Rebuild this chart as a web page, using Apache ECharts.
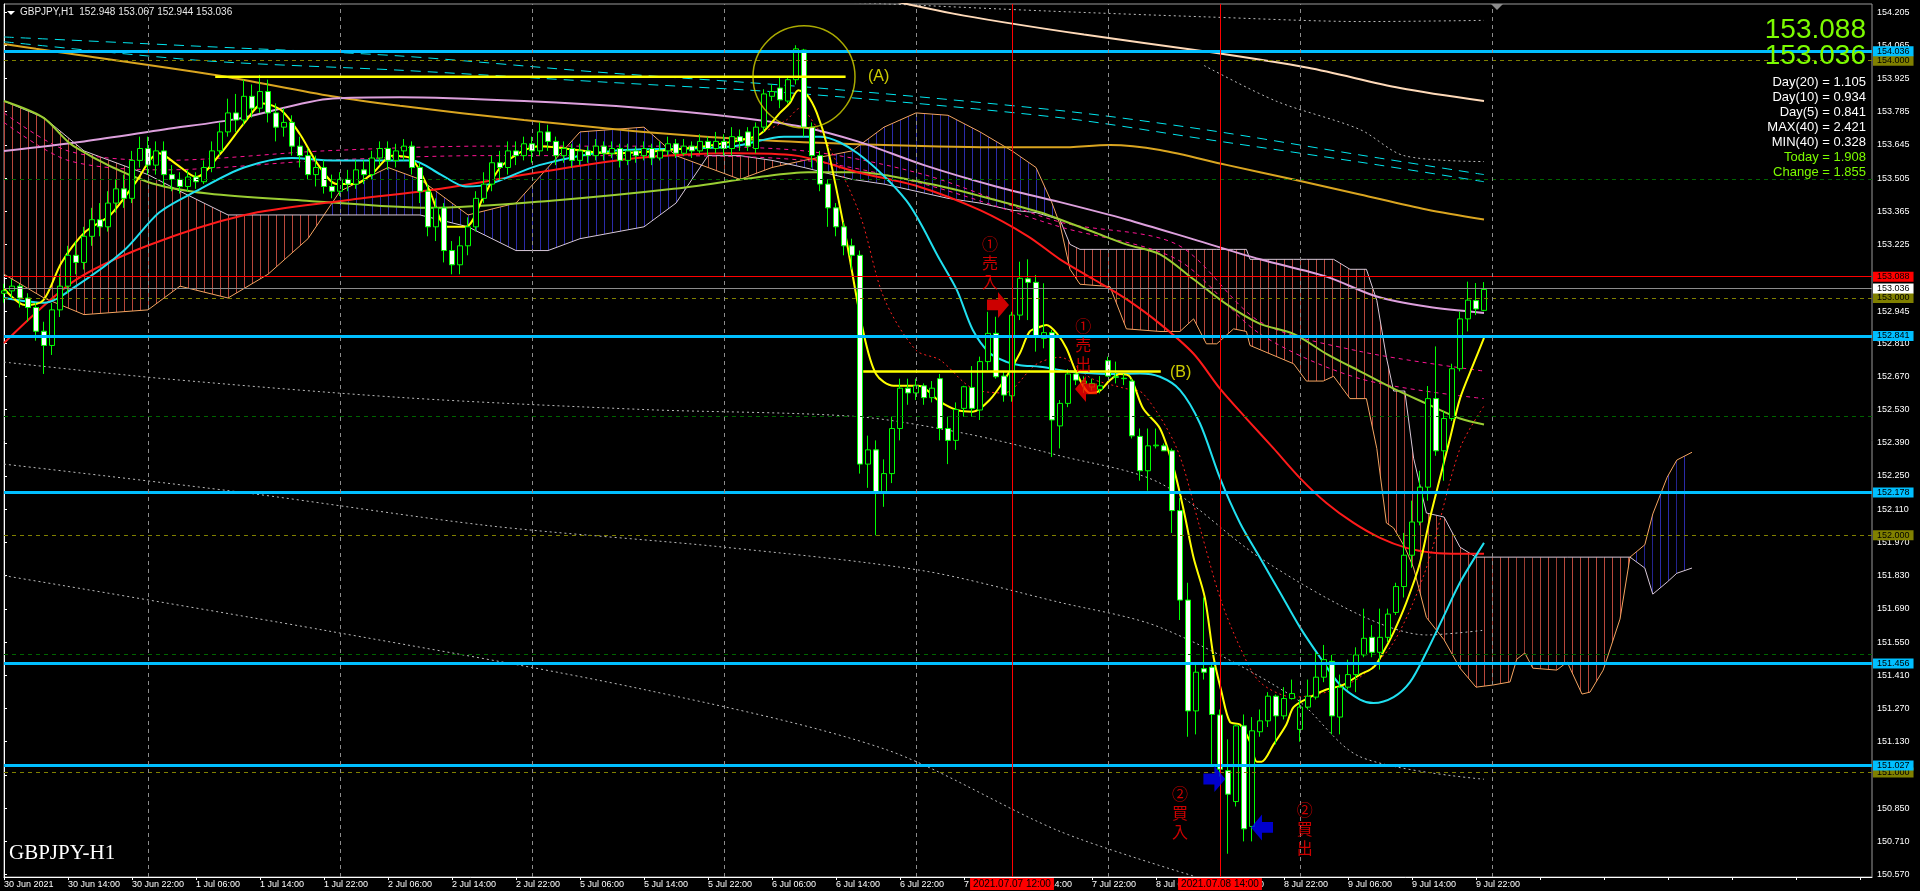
<!DOCTYPE html>
<html><head><meta charset="utf-8">
<style>html,body{margin:0;padding:0;background:#000;overflow:hidden}#c{width:1920px;height:891px}</style>
<script src="https://cdn.jsdelivr.net/npm/echarts@6/dist/echarts.min.js"></script>
</head><body><div id="c"></div>
<script>
// ---------- DATA ----------
// candles [open, high, low, close], one per H1 bar starting 30 Jun 2021 06:00
const ohlc = [
[153.02,153.06,152.98,153.03],[153.03,153.08,153.00,153.05],[153.05,153.06,152.96,153.00],[153.00,153.02,152.90,152.96],
[152.96,152.98,152.82,152.86],[152.86,152.90,152.68,152.80],[152.80,152.98,152.76,152.95],[152.95,153.10,152.92,153.05],
[153.05,153.22,153.02,153.18],[153.18,153.24,153.10,153.15],[153.15,153.30,153.12,153.26],[153.26,153.38,153.22,153.33],
[153.33,153.40,153.26,153.30],[153.30,153.45,153.28,153.40],[153.40,153.50,153.36,153.46],[153.46,153.52,153.38,153.42],
[153.42,153.62,153.40,153.58],[153.58,153.68,153.55,153.63],[153.63,153.68,153.52,153.56],[153.56,153.66,153.52,153.62],
[153.62,153.66,153.47,153.52],[153.52,153.56,153.45,153.50],[153.50,153.53,153.44,153.47],[153.47,153.54,153.45,153.51],
[153.51,153.53,153.46,153.49],[153.49,153.58,153.48,153.55],[153.55,153.66,153.53,153.62],[153.62,153.74,153.60,153.70],
[153.70,153.84,153.68,153.78],[153.78,153.86,153.70,153.75],[153.75,153.92,153.73,153.85],[153.85,153.90,153.76,153.80],
[153.80,153.94,153.78,153.87],[153.87,153.92,153.74,153.78],[153.78,153.82,153.66,153.72],[153.72,153.80,153.68,153.74],
[153.74,153.77,153.60,153.64],[153.64,153.68,153.55,153.60],[153.60,153.63,153.50,153.52],[153.52,153.60,153.47,153.55],
[153.55,153.58,153.44,153.47],[153.47,153.52,153.42,153.45],[153.45,153.53,153.43,153.50],[153.50,153.54,153.45,153.48],
[153.48,153.58,153.46,153.54],[153.54,153.58,153.48,153.52],[153.52,153.62,153.50,153.59],[153.59,153.66,153.56,153.63],
[153.63,153.66,153.54,153.58],[153.58,153.65,153.55,153.62],[153.62,153.67,153.58,153.64],[153.64,153.66,153.52,153.55],
[153.55,153.57,153.40,153.45],[153.45,153.48,153.26,153.30],[153.30,153.42,153.24,153.38],[153.38,153.40,153.15,153.20],
[153.20,153.24,153.10,153.14],[153.14,153.26,153.10,153.22],[153.22,153.34,153.18,153.30],[153.30,153.45,153.28,153.42],
[153.42,153.53,153.40,153.48],[153.48,153.60,153.45,153.57],[153.57,153.62,153.50,153.55],[153.55,153.66,153.52,153.62],
[153.62,153.66,153.56,153.60],[153.60,153.68,153.58,153.65],[153.65,153.68,153.57,153.62],[153.62,153.74,153.60,153.70],
[153.70,153.73,153.62,153.66],[153.66,153.68,153.56,153.60],[153.60,153.66,153.57,153.63],[153.63,153.65,153.55,153.58],
[153.58,153.65,153.56,153.62],[153.62,153.64,153.57,153.60],[153.60,153.67,153.58,153.64],[153.64,153.66,153.58,153.61],
[153.61,153.66,153.59,153.63],[153.63,153.65,153.55,153.58],[153.58,153.65,153.56,153.62],[153.62,153.64,153.57,153.60],
[153.60,153.66,153.58,153.63],[153.63,153.65,153.56,153.59],[153.59,153.66,153.58,153.62],[153.62,153.68,153.60,153.65],
[153.65,153.67,153.59,153.61],[153.61,153.67,153.60,153.64],[153.64,153.66,153.59,153.62],[153.62,153.69,153.61,153.66],
[153.66,153.68,153.60,153.63],[153.63,153.70,153.61,153.66],[153.66,153.69,153.60,153.63],[153.63,153.72,153.60,153.68],
[153.68,153.71,153.62,153.66],[153.70,153.72,153.62,153.64],[153.63,153.74,153.61,153.72],[153.72,153.88,153.70,153.86],
[153.85,153.90,153.83,153.87],[153.885,153.93,153.80,153.835],[153.83,153.93,153.82,153.92],[153.92,154.065,153.90,154.05],
[154.045,154.05,153.68,153.72],[153.72,153.74,153.55,153.60],[153.60,153.62,153.45,153.48],[153.48,153.50,153.30,153.38],
[153.38,153.40,153.26,153.30],[153.30,153.32,153.18,153.22],[153.22,153.25,153.12,153.18],[153.18,153.20,152.26,152.30],
[152.30,152.42,152.20,152.36],[152.36,152.40,152.00,152.18],[152.18,152.32,152.12,152.26],[152.26,152.50,152.22,152.45],
[152.45,152.66,152.40,152.62],[152.62,152.66,152.55,152.60],[152.60,152.66,152.57,152.63],[152.63,152.64,152.55,152.58],
[152.58,152.65,152.56,152.62],[152.66,152.68,152.40,152.45],[152.45,152.50,152.30,152.40],[152.40,152.56,152.36,152.53],
[152.535,152.630,152.500,152.626],[152.623,152.713,152.500,152.535],[152.528,152.753,152.486,152.732],[152.732,152.942,152.696,152.851],
[152.851,152.921,152.660,152.668],[152.671,152.689,152.563,152.591],[152.588,152.942,152.563,152.928],[152.928,153.153,152.907,153.083],
[153.081,153.163,152.907,153.066],[153.066,153.097,152.774,152.834],[152.830,153.062,152.788,152.854],[152.854,152.865,152.330,152.486],
[152.461,152.570,152.366,152.556],[152.556,152.700,152.540,152.680],[152.680,152.689,152.633,152.654],[152.640,152.670,152.600,152.650],
[152.625,152.660,152.610,152.640],[152.615,152.671,152.598,152.630],[152.736,152.753,152.668,152.671],[152.668,152.732,152.640,152.666],
[152.662,152.680,152.633,152.660],[152.650,152.660,152.408,152.419],[152.417,152.450,152.230,152.272],[152.272,152.450,152.188,152.377],
[152.377,152.450,152.366,152.380],[152.377,152.387,152.356,152.356],[152.356,152.366,152.010,152.104],[152.104,152.157,151.643,151.727],
[151.727,151.800,151.151,151.260],[151.260,151.465,151.161,151.423],[151.438,151.738,151.392,151.423],[151.444,151.465,151.025,151.245],
[151.243,151.266,150.983,151.014],[151.008,151.140,150.658,150.909],[150.878,151.203,150.857,151.197],[151.197,151.245,150.710,150.763],
[150.773,151.234,150.710,151.176],[151.172,151.266,151.151,151.218],[151.218,151.339,151.192,151.322],[151.322,151.329,151.119,151.239],
[151.239,151.360,151.224,151.312],[151.312,151.392,151.308,151.333],[151.182,151.308,151.130,151.276],[151.276,151.392,151.266,151.322],
[151.318,151.507,151.308,151.402],[151.402,151.538,151.381,151.476],[151.469,151.496,151.161,151.239],[151.234,151.413,151.161,151.360],
[151.360,151.476,151.350,151.413],[151.413,151.528,151.339,151.496],[151.496,151.691,151.486,151.566],[151.570,151.622,151.486,151.507],
[151.507,151.691,151.434,151.570],[151.570,151.691,151.549,151.668],[151.675,151.800,151.664,151.784],[151.784,152.010,151.738,151.916],
[151.916,152.146,151.863,152.056],[152.056,152.272,152.042,152.203],[152.203,152.629,152.146,152.576],[152.576,152.796,152.335,152.356],
[152.356,152.524,152.230,152.492],[152.492,152.723,152.482,152.702],[152.702,152.943,152.691,152.912],[152.912,153.069,152.859,152.991],
[152.989,153.063,152.928,152.954],[152.948,153.067,152.944,153.036]
];
// x tick labels [bar index, text]
const xTickLabels = [[0,'30 Jun 2021'],[8,'30 Jun 14:00'],[16,'30 Jun 22:00'],[24,'1 Jul 06:00'],[32,'1 Jul 14:00'],[40,'1 Jul 22:00'],
[48,'2 Jul 06:00'],[56,'2 Jul 14:00'],[64,'2 Jul 22:00'],[72,'5 Jul 06:00'],[80,'5 Jul 14:00'],[88,'5 Jul 22:00'],[96,'6 Jul 06:00'],
[104,'6 Jul 14:00'],[112,'6 Jul 22:00'],[120,'7 Jul 06:00'],[128,'7 Jul 14:00'],[136,'7 Jul 22:00'],[144,'8 Jul 06:00'],[152,'8 Jul 14:00'],
[160,'8 Jul 22:00'],[168,'9 Jul 06:00'],[176,'9 Jul 14:00'],[184,'9 Jul 22:00']];
const yTicks = [150.570,150.710,150.850,150.990,151.130,151.270,151.410,151.550,151.690,151.830,151.970,152.110,152.250,152.390,152.530,
152.670,152.810,152.945,153.085,153.225,153.365,153.505,153.645,153.785,153.925,154.065,154.205];
const daySeparators = [18,42,66,90,114,138,162,186];
const cyanLevels = [154.036,152.841,152.178,151.456,151.027];
const olivLevels = [154.000,153.000,152.000,151.000];
const greenLevels = [153.500,152.500,151.500];
const highLine = 153.088, bidLine = 153.036;
const redTimes = [[126,'2021.07.07 12:00'],[152,'2021.07.08 14:00']];
// indicator lines [bar index, price]
const maYellow = [[0,153.04],[2.6,152.97],[4.9,152.99],[7.2,153.15],[10.2,153.28],[13.3,153.35],[16.3,153.48],[19.4,153.61],[21.7,153.56],[24,153.51],[27.1,153.61],[30.1,153.74],[32.4,153.82],[34.7,153.79],[37,153.69],[39.3,153.56],[41.6,153.48],[43.9,153.48],[46.2,153.53],[48.5,153.60],[50.8,153.59],[53.1,153.46],[55.4,153.30],[57.7,153.30],[60,153.43],[62.3,153.56],[66.9,153.64],[76,153.61],[85.2,153.63],[91.3,153.66],[94.5,153.69],[97,153.78],[98.2,153.82],[99.3,153.876],[100.4,153.855],[101.6,153.78],[102.9,153.64],[105.1,153.28],[107.4,152.86],[109,152.68],[111.2,152.63],[114.3,152.63],[117,152.563],[119.1,152.528],[121.1,152.521],[123.2,152.57],[125.3,152.668],[127,152.768],[128.2,152.858],[129.5,152.879],[130.3,152.886],[131.6,152.851],[132.8,152.788],[134.1,152.682],[135.75,152.6],[137,152.61],[138.25,152.654],[139.5,152.68],[140.75,152.668],[142.4,152.534],[144.5,152.45],[146.2,152.283],[147.4,152.115],[148.7,151.905],[150.1,151.738],[151.2,151.486],[152.2,151.339],[153.25,151.213],[154.5,151.203],[155.75,151.13],[156.6,151.046],[157.2,151.046],[158.7,151.119],[160.3,151.203],[161.2,151.276],[163.25,151.318],[165.3,151.35],[167.4,151.37],[169.5,151.413],[171.2,151.444],[172.4,151.507],[173.7,151.591],[175.3,151.717],[177,151.884],[178.25,152.073],[179.5,152.241],[180.75,152.408],[182,152.576],[183.7,152.723],[185,152.832]];
const maCyan = [[0,153.00],[5,152.98],[9,153.05],[15,153.20],[19.4,153.36],[24,153.45],[30,153.55],[36,153.59],[41,153.58],[46,153.58],[51,153.58],[54.6,153.52],[57.7,153.47],[60.7,153.48],[66.9,153.56],[76,153.62],[85.2,153.63],[91.3,153.64],[97.5,153.68],[102,153.68],[106.7,153.61],[112.8,153.41],[117,153.16],[119.1,153.034],[121.1,152.865],[123.2,152.768],[125.3,152.731],[127,152.717],[129.5,152.71],[133.6,152.689],[137.8,152.68],[142,152.682],[144.5,152.668],[147,152.612],[149.5,152.471],[152,152.241],[154.5,152.052],[157,151.905],[159.5,151.759],[162,151.612],[164.5,151.486],[167,151.37],[169.5,151.308],[171.2,151.293],[173.7,151.318],[175.75,151.381],[177.8,151.507],[179.9,151.654],[182,151.801],[185,151.968]];
const maRed = [[0,152.81],[8.7,153.07],[17.9,153.22],[30.1,153.35],[42.4,153.41],[54.6,153.46],[66.9,153.53],[79.1,153.59],[91.3,153.61],[99,153.60],[106.7,153.53],[114.3,153.47],[122,153.37],[128,153.26],[132,153.163],[136.2,153.079],[140.3,152.995],[144.5,152.891],[148.7,152.765],[152,152.618],[155.3,152.492],[158.7,152.366],[162,152.241],[165.3,152.136],[168.7,152.052],[172,151.989],[175.3,151.947],[178.7,151.926],[182,151.922],[185,151.922]];
const maGreen = [[0,153.83],[4.9,153.76],[8.7,153.64],[17.9,153.49],[25.5,153.44],[37.8,153.41],[53.1,153.38],[68.4,153.41],[83.7,153.46],[94.4,153.51],[100.5,153.53],[106.7,153.53],[115.8,153.48],[122,153.43],[129.6,153.36],[132,153.331],[136.2,153.278],[140.3,153.226],[144.5,153.184],[148.7,153.079],[152.8,152.974],[157,152.891],[161.2,152.849],[165.3,152.765],[169.5,152.691],[173.7,152.618],[177.8,152.555],[182,152.492],[185,152.467]];
const maPlum = [[0,153.62],[10,153.66],[20,153.71],[29.5,153.757],[41.1,153.841],[49.5,153.846],[65,153.83],[80,153.80],[92,153.76],[100,153.72],[106.7,153.66],[115,153.56],[124,153.47],[132,153.404],[140.3,153.331],[148.7,153.247],[157,153.163],[165.3,153.09],[171.6,153.006],[177.8,152.964],[185,152.937]];
const maGold = [[0,154.07],[4,154.05],[26.4,153.94],[41,153.85],[49.5,153.81],[65,153.75],[80,153.70],[95,153.665],[110,153.645],[125,153.635],[132,153.635],[138.25,153.645],[144.5,153.624],[152.8,153.561],[161.2,153.499],[169.5,153.436],[177.8,153.373],[185,153.331]];
const maBisque = [[110,154.26],[120,154.19],[135,154.11],[150,154.04],[163,153.97],[174.5,153.885],[185,153.83]];
const cyanDashA = [[0,154.10],[25,154.06],[49.5,154.02],[75,153.95],[100,153.89],[132,153.79],[150,153.71],[170,153.60],[185,153.52]];
const cyanDashB = [[0,154.08],[25,154.00],[49.5,153.96],[75,153.91],[100,153.86],[132,153.76],[150,153.67],[170,153.57],[185,153.49]];
const dotUp1 = [[95,154.26],[110,154.24],[130,154.21],[150,154.185],[170,154.165],[185,154.17]];
const dotUp2 = [[150,153.98],[159,153.83],[169.5,153.71],[175,153.60],[185,153.575]];
const dotLo1 = [[0,152.73],[20,152.66],[50,152.58],[80,152.53],[106.7,152.50],[120,152.43],[132,152.335],[144.5,152.22],[157,151.905],[169.5,151.664],[177.8,151.58],[185,151.60]];
const dotLo2 = [[0,152.30],[30,152.18],[60.7,152.04],[90,151.95],[115,151.85],[132,151.717],[144.5,151.612],[161.2,151.318],[169.5,151.067],[185,150.972]];
const dotLo3 = [[0,151.83],[40,151.60],[80,151.35],[110,151.10],[132,150.752],[148.7,150.564]];
const redDotted = [[95,153.70],[97.8,153.75],[99.5,153.80],[101.6,153.72],[102.8,153.66],[107,153.35],[110,153.00],[114,152.78],[117,152.739],[121,152.62],[125,152.60],[129,152.72],[132,152.75],[136,152.66],[140,152.62],[142.4,152.597],[146.6,152.366],[149.5,152.031],[152,151.738],[154.5,151.528],[157,151.381],[161.2,151.318],[165.3,151.339],[169.5,151.402],[173.7,151.549],[177.8,151.863],[182,152.366],[185,152.545]];
const pinkDashA = [[0,153.78],[8,153.62],[20,153.58],[40,153.62],[60,153.64],[80,153.64],[100,153.62],[115,153.52],[132,153.32],[146.6,153.226],[157,152.90],[169.5,152.775],[185,152.692]];
const pinkDashB = [[0,153.74],[8,153.58],[20,153.54],[40,153.58],[60,153.60],[80,153.60],[100,153.58],[115,153.48],[132,153.30],[146.6,153.163],[157,152.849],[169.5,152.66],[185,152.576]];
// Ichimoku cloud key points
const cloudIdx = [0,5,10,18,22,28,33,38,42,48,52,58,64,68,72,80,84,88,92,96,100,106,110,114,118,122,126,129,131,132,133.25,134.5,138.25,140.3,144.5,147,148.7,150.3,151.6,153.7,155.3,155.75,161.2,162.8,164.9,166.2,168.25,170.3,171.6,172.8,173.7,175.1,176.2,177.8,180,182,184,186.1,188.25,189.1,190.1,191.1,194.1,195.4,197.25,198.25,199.9,202,203.25,205.1,206.1,207.9,209.1,211];
const spanA = [153.10,153.00,152.93,152.95,153.05,153.00,153.10,153.25,153.45,153.55,153.50,153.35,153.40,153.55,153.70,153.72,153.60,153.55,153.50,153.55,153.58,153.62,153.72,153.78,153.77,153.70,153.62,153.55,153.40,153.31,153.121,153.058,153.048,152.87,152.859,152.859,152.912,152.807,152.807,152.87,152.859,152.80,152.723,152.65,152.65,152.67,152.576,152.576,152.366,152.052,152.031,151.95,151.863,151.654,151.56,151.44,151.36,151.369,151.382,151.478,151.504,151.44,151.432,151.466,151.331,151.339,151.432,151.647,151.908,151.96,152.09,152.245,152.317,152.35];
const spanB = [153.83,153.76,153.62,153.52,153.45,153.35,153.35,153.35,153.35,153.35,153.35,153.30,153.20,153.20,153.25,153.30,153.40,153.60,153.60,153.58,153.55,153.50,153.48,153.45,153.42,153.40,153.37,153.36,153.34,153.33,153.226,153.205,153.205,153.205,153.205,153.205,153.205,153.205,153.205,153.205,153.205,153.163,153.163,153.163,153.163,153.163,153.121,153.121,152.99,152.75,152.608,152.608,152.325,152.094,152.077,151.95,151.908,151.908,151.908,151.908,151.908,151.908,151.908,151.908,151.908,151.908,151.908,151.908,151.908,151.862,151.752,151.803,151.84,151.862];
// annotations
const lineA = [[26.4,153.932],[105.2,153.932]];
const lineB = [[107.4,152.690],[144.6,152.690]];
const circleA = [100,153.932];
const notes = [{i:123.25,p:153.148,t:'①\n売\n入'},{i:134.9,p:152.802,t:'①\n売\n出'},{i:147,p:150.832,t:'②\n買\n入'},{i:162.6,p:150.762,t:'②\n買\n出'}];
const arrows = [{i:124.25,p:152.971,dir:'r',c:'#ff0000'},{i:135.25,p:152.617,dir:'l',c:'#ff0000'},{i:151.3,p:150.973,dir:'r',c:'#0000ff'},{i:157.25,p:150.769,dir:'l',c:'#0000ff'}];
const letterLabels = [{i:108,p:153.932,t:'(A)'},{i:145.75,p:152.686,t:'(B)'}];
const infoLines = [['Day(20) = 1.105','#ffffff'],['Day(10) = 0.934','#ffffff'],['Day(5) = 0.841','#ffffff'],['MAX(40) = 2.421','#ffffff'],['MIN(40) = 0.328','#ffffff'],['Today = 1.908','#7cfc00'],['Change = 1.855','#7cfc00']];
const bigPrices = ['153.088','153.036'];
const titleText = 'GBPJPY,H1  152.948 153.067 152.944 153.036';

// ---------- CHART ----------
const chart = echarts.init(document.getElementById('c'));
const xMap = {}; xTickLabels.forEach(([i,t])=>xMap[i]=t);
function hatch(color){const c=document.createElement('canvas');c.width=8;c.height=8;const g=c.getContext('2d');g.fillStyle=color;g.fillRect(4,0,1,8);return {image:c,repeat:'repeat'};}
const redHatch = hatch('#b8483c'), blueHatch = hatch('#2b2ba8');
const cloudData = cloudIdx.map((i,k)=>[i,spanA[k],spanB[k]]);
function lineSeries(data,color,width,type,z,smooth){return {type:'line',data:data,symbol:'none',smooth:smooth===undefined?0.3:smooth,z:z||3,silent:true,animation:false,lineStyle:{color:color,width:width,type:type||'solid'}};}
const yBox = (v,bg,fg,lc,lw,lt)=>({yAxis:v,lineStyle:{color:lc,width:lw,type:lt||'solid'},label:bg?{show:true,position:'end',distance:1,formatter:v.toFixed(3),backgroundColor:bg,color:fg,fontSize:9,fontFamily:'Liberation Sans',padding:[1,4,0,4]}:{show:false}});
const hLines = [];
greenLevels.forEach(v=>hLines.push(yBox(v,null,null,'#006400',1,[4,4])));
olivLevels.forEach(v=>hLines.push(yBox(v,'#808000','#000','#808000',1,[4,4])));
hLines.push(yBox(bidLine,'#ffffff','#000','#8c8c8c',1));
hLines.push(yBox(highLine,'#ff0000','#000','#ff0000',1));
cyanLevels.forEach(v=>hLines.push(yBox(v,'#00bfff','#000','#00bfff',3)));
const vLines = daySeparators.map(i=>({xAxis:i,lineStyle:{color:'#8c8c8c',width:1,type:[4,4]},label:{show:false}}));
redTimes.forEach(([i,t])=>vLines.push({xAxis:i,lineStyle:{color:'#ff0000',width:1,type:'solid'},label:{show:true,position:'start',distance:1,formatter:t,backgroundColor:'#ff0000',color:'#000',fontSize:10,fontFamily:'Liberation Sans',padding:[1,3,1,3]}}));
const arrowPath = {r:'path://M0,7 L11,7 L11,0 L22,12 L11,24 L11,17 L0,17 Z', l:'path://M22,7 L11,7 L11,0 L0,12 L11,24 L11,17 L22,17 Z'};

const option = {
  backgroundColor:'#000', animation:false,
  grid:{left:4,right:48,top:4,bottom:14,show:true,borderColor:'#9a9a9a',borderWidth:1,backgroundColor:'#000'},
  xAxis:{type:'value',min:0,max:233.5,interval:8,
    axisLine:{show:true,onZero:false,lineStyle:{color:'#ffffff'}},
    axisTick:{show:true,length:3,lineStyle:{color:'#ffffff'}},
    splitLine:{show:false},
    axisLabel:{color:'#ffffff',fontSize:9,fontFamily:'Liberation Sans',align:'left',margin:3,showMaxLabel:false,formatter:v=>xMap[v]||''}},
  yAxis:{type:'value',position:'right',min:150.560,max:154.239,scale:true,
    axisLine:{show:true,lineStyle:{color:'#ffffff'}},
    axisTick:{show:true,length:3,customValues:yTicks,lineStyle:{color:'#ffffff'}},
    splitLine:{show:false},
    axisLabel:{color:'#ffffff',fontSize:9,fontFamily:'Liberation Sans',margin:5,customValues:yTicks,formatter:v=>v.toFixed(3)}},
  series:[
    {type:'custom',z:1,silent:true,data:cloudData,encode:{x:0,y:[1,2]},
      renderItem:function(params,api){
        const k=params.dataIndex; if(k===0) return null;
        const x0=cloudIdx[k-1],x1=cloudIdx[k],a0=spanA[k-1],a1=spanA[k],b0=spanB[k-1],b1=spanB[k];
        const d0=a0-b0,d1=a1-b1; const polys=[];
        const mk=(pts,up)=>({type:'polygon',shape:{points:pts.map(p=>api.coord(p))},style:{fill:up?blueHatch:redHatch,stroke:null}});
        if(d0*d1<0){const t=d0/(d0-d1);const xm=x0+(x1-x0)*t,ym=a0+(a1-a0)*t;
          polys.push(mk([[x0,a0],[xm,ym],[x0,b0]],d0>0));polys.push(mk([[xm,ym],[x1,a1],[x1,b1]],d1>0));}
        else polys.push(mk([[x0,a0],[x1,a1],[x1,b1],[x0,b0]],(d0+d1)>0));
        return {type:'group',children:polys};
      }},
    lineSeries(cloudIdx.map((i,k)=>[i,spanA[k]]),'#f4a460',1,'solid',2,false),
    lineSeries(cloudIdx.map((i,k)=>[i,spanB[k]]),'#d8c8d8',1,'solid',2,false),
    lineSeries(dotUp1,'#bdbdbd',1,[2,3],2),
    lineSeries(dotUp2,'#bdbdbd',1,[2,3],2),
    lineSeries(dotLo1,'#bdbdbd',1,[2,3],2),
    lineSeries(dotLo2,'#bdbdbd',1,[2,3],2),
    lineSeries(dotLo3,'#bdbdbd',1,[2,3],2),
    lineSeries(cyanDashA,'#00e5ee',1,[10,7],2),
    lineSeries(cyanDashB,'#00e5ee',1,[10,7],2),
    lineSeries(pinkDashA,'#ff1493',1,[4,4],2),
    lineSeries(pinkDashB,'#ff1493',1,[4,4],2),
    lineSeries(redDotted,'#ff2020',1,[2,3],2),
    lineSeries(maBisque,'#ffdab9',2),
    lineSeries(maGold,'#daa520',2),
    lineSeries(maPlum,'#dda0dd',2),
    lineSeries(maGreen,'#9acd32',2),
    lineSeries(maRed,'#ff1a1a',2),
    lineSeries(maCyan,'#20e0f0',2),
    lineSeries(maYellow,'#ffff00',2),
    {type:'candlestick',z:4,silent:true,barWidth:5,
      data:ohlc.map((d,i)=>[i,d[0],d[3],d[2],d[1]]),encode:{x:0,y:[1,2,3,4]},
      itemStyle:{color:'#000000',color0:'#ffffff',borderColor:'#00ff00',borderColor0:'#00ff00',borderWidth:1}},
    {type:'line',z:5,silent:true,data:[],symbol:'none',
      markLine:{silent:true,symbol:['none','none'],animation:false,data:hLines.concat(vLines)}},
    lineSeries(lineA,'#ffff00',2.5,'solid',6,false),
    lineSeries(lineB,'#ffff00',2.5,'solid',6,false),
    {type:'scatter',z:6,silent:true,data:[circleA],symbol:'circle',symbolSize:102,itemStyle:{color:'rgba(0,0,0,0)',borderColor:'#d4d400',borderWidth:1.5}},
    {type:'scatter',z:7,silent:true,symbolSize:0,
      data:letterLabels.map(o=>({value:[o.i,o.p],label:{formatter:o.t}})),
      label:{show:true,position:'right',distance:0,color:'#ffff00',fontSize:16,fontFamily:'Liberation Sans'}},
    {type:'scatter',z:7,silent:true,symbolSize:0,
      data:notes.map(o=>({value:[o.i,o.p],label:{formatter:o.t}})),
      label:{show:true,position:'inside',color:'#ff0000',fontSize:16,lineHeight:19,fontFamily:'Noto Sans CJK JP'}},
    {type:'scatter',z:7,silent:true,
      data:arrows.map(o=>({value:[o.i,o.p],symbol:arrowPath[o.dir],itemStyle:{color:o.c}})),
      symbolSize:[22,26]}
  ],
  graphic:[
    {type:'polygon',shape:{points:[[7,11],[15,11],[11,15]]},style:{fill:'#ffffff'},z:10},
    {type:'text',left:20,top:7,style:{text:titleText,fill:'#e8e8e8',fontSize:10,fontFamily:'Liberation Sans'},z:10},
    {type:'text',left:9,top:843,style:{text:'GBPJPY-H1',fill:'#ffffff',fontSize:21,fontFamily:'Liberation Serif'},z:10},
    {type:'polygon',shape:{points:[[1491,4],[1503,4],[1497,10]]},style:{fill:'#8c8c8c'},z:10},
    {type:'text',right:54,top:16,style:{text:bigPrices[0],fill:'#7cfc00',fontSize:28,fontFamily:'Liberation Sans',align:'right'},z:10},
    {type:'text',right:54,top:42,style:{text:bigPrices[1],fill:'#7cfc00',fontSize:28,fontFamily:'Liberation Sans',align:'right'},z:10}
  ].concat(infoLines.map((l,k)=>({type:'text',right:54,top:76+k*15,style:{text:l[0],fill:l[1],fontSize:13,fontFamily:'Liberation Sans',align:'right'},z:10})))
};
chart.setOption(option);
</script></body></html>
